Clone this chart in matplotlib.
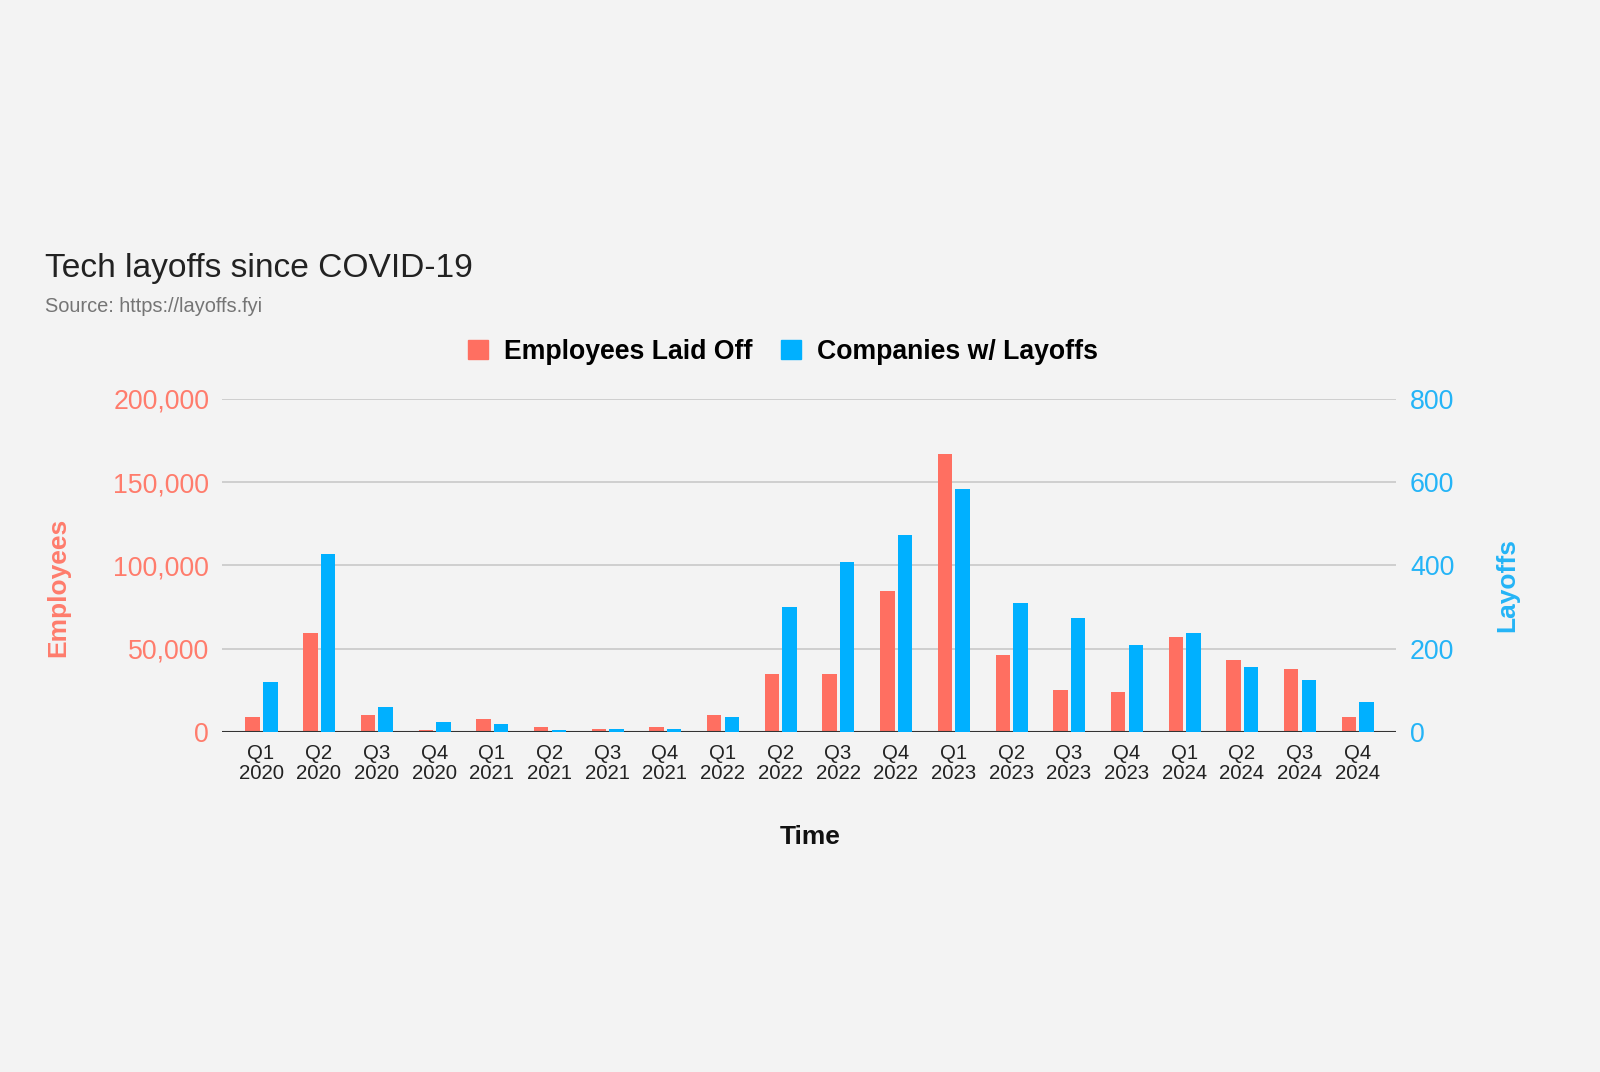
import numpy as np
import matplotlib
matplotlib.use("Agg")
import matplotlib.pyplot as plt
from matplotlib.patches import Patch
from matplotlib.ticker import FuncFormatter

plt.rcParams['font.family'] = ['Liberation Sans', 'DejaVu Sans']

quarters = ["Q1\n2020", "Q2\n2020", "Q3\n2020", "Q4\n2020",
            "Q1\n2021", "Q2\n2021", "Q3\n2021", "Q4\n2021",
            "Q1\n2022", "Q2\n2022", "Q3\n2022", "Q4\n2022",
            "Q1\n2023", "Q2\n2023", "Q3\n2023", "Q4\n2023",
            "Q1\n2024", "Q2\n2024", "Q3\n2024", "Q4\n2024"]
employees = [9000, 59200, 10000, 1200, 8000, 3000, 2000, 3000,
             10000, 35100, 35100, 84500, 166900, 46100, 25100, 24100,
             57200, 43100, 38100, 9000]
companies = [120, 427, 60, 24, 20, 5, 8, 8,
             36, 301, 409, 473, 583, 309, 273, 209,
             237, 156, 124, 72]

RED = '#ff6f61'
BLUE = '#00b0ff'
RED_TXT = '#ff7c6c'
BLUE_TXT = '#24b4f7'
BG = '#f3f3f3'

fig = plt.figure(figsize=(16, 10.72), dpi=100)
fig.patch.set_facecolor(BG)
ax = fig.add_axes([0.139, 0.3172, 0.7335, 0.3106])
ax.set_facecolor(BG)
ax2 = ax.twinx()

x = np.arange(len(quarters))
w = 0.25
ax.bar(x - 0.145, employees, width=w, color=RED, zorder=3)
ax2.bar(x + 0.16, companies, width=w, color=BLUE, zorder=3)

ax.set_xlim(-0.67, len(quarters) - 0.33)
ax.set_ylim(0, 200000)
ax2.set_ylim(0, 800)
ax.set_yticks([0, 50000, 100000, 150000, 200000])
ax2.set_yticks([0, 200, 400, 600, 800])
ax.yaxis.set_major_formatter(FuncFormatter(lambda v, p: f"{int(v):,}"))

ax.grid(axis='y', color='#cccccc', linewidth=1.3, zorder=0)
ax.set_axisbelow(True)
for a in (ax, ax2):
    for s in ['top', 'left', 'right', 'bottom']:
        a.spines[s].set_visible(False)
ax.axhline(0, color='#333333', linewidth=1.5, zorder=4)

ax.set_xticks(x)
ax.set_xticklabels(quarters, fontsize=14.7, color='#222222', linespacing=1.05)
ax.tick_params(axis='x', length=0, pad=9)
ax.tick_params(axis='y', length=0, labelsize=19.3, labelcolor=RED_TXT, pad=9.5)
ax2.tick_params(axis='y', length=0, labelsize=19.3, labelcolor=BLUE_TXT, pad=10)

fig.text(58 / 1600, 1 - 587 / 1072, "Employees", rotation=90, fontsize=19,
         fontweight='bold', color=RED_TXT, ha='center', va='center')
fig.text(1507 / 1600, 1 - 585 / 1072, "Layoffs", rotation=90, fontsize=19,
         fontweight='bold', color=BLUE_TXT, ha='center', va='center')
fig.text(810 / 1600, 1 - 837 / 1072, "Time", fontsize=19,
         fontweight='bold', color='#111111', ha='center', va='center')

fig.text(45 / 1600, 1 - 268 / 1072, "Tech layoffs since COVID-19",
         fontsize=24.1, color='#222222', ha='left', va='center')
fig.text(45 / 1600, 1 - 306 / 1072, "Source: https://layoffs.fyi",
         fontsize=14.4, color='#757575', ha='left', va='center')

handles = [Patch(color=RED, label="Employees Laid Off"),
           Patch(color=BLUE, label="Companies w/ Layoffs")]
fig.legend(handles=handles, loc='center', bbox_to_anchor=(783 / 1600, 1 - 352 / 1072),
           ncol=2, frameon=False, prop={'weight': 'bold', 'size': 19.2},
           handlelength=0.75, handleheight=0.75, handletextpad=0.6, columnspacing=1.1)

fig.savefig("out.png", dpi=100, facecolor=BG)
